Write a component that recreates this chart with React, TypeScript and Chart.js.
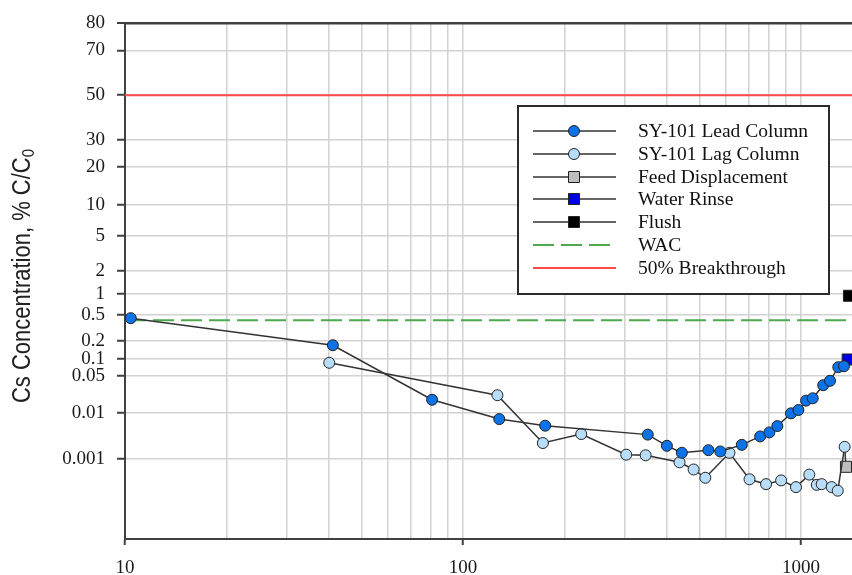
import { useEffect, useRef } from 'react';
import { Chart, Scale, registerables } from 'chart.js';

// ---------------- data ----------------
// Bed volumes processed (x) and Cs concentration in % C/C0 (y)
const leadBV = [10.4, 41.2, 81, 128, 175, 352, 401, 444, 532, 577, 668, 757, 806, 851, 934, 982, 1035, 1083, 1163, 1218, 1289, 1340];
const leadConc = [0.45, 0.17, 0.018, 0.0074, 0.0054, 0.0035, 0.002, 0.0014, 0.0016, 0.0015, 0.0021, 0.0032, 0.0039, 0.0053, 0.0097, 0.0113, 0.0173, 0.0192, 0.034, 0.041, 0.072, 0.075];

const lagBV = [40.2, 126.4, 172.3, 223.7, 304, 347, 437, 481, 521, 614, 704, 788, 873, 966, 1058, 1113, 1151, 1232, 1284, 1346];
const lagConc = [0.086, 0.022, 0.0023, 0.0036, 0.00127, 0.00123, 0.00085, 0.00058, 0.00037, 0.0014, 0.00034, 0.00026, 0.00032, 0.00022, 0.00044, 0.00025, 0.00026, 0.00022, 0.00018, 0.0019];

const feedBV = [1346, 1358];
const feedConc = [0.0019, 0.00067];

const rinseBV = [1374];
const rinseConc = [0.098];

const flushBV = [1386];
const flushConc = [0.94];

const wacLevel = 0.42;
const breakthroughLevel = 50;

const xMin = 10;
const xMax = 1415;
const yMin = 0.00001;
const yMax = 80;

const yTickValues = [0.001, 0.01, 0.05, 0.1, 0.2, 0.5, 1, 2, 5, 10, 20, 30, 50, 70, 80];
const xGridValues = [10, 20, 30, 40, 50, 60, 70, 80, 90, 100, 200, 300, 400, 500, 600, 700, 800, 900, 1000];
const xLabelValues = [10, 100, 1000];

const yTitle = 'Cs Concentration, % C/C';
const yTitleSub = '0';

// ---------------- probability (probit) scale ----------------
function probit(p: number): number {
  const a = [-3.969683028665376e1, 2.209460984245205e2, -2.759285104469687e2, 1.38357751867269e2, -3.066479806614716e1, 2.506628277459239];
  const b = [-5.447609879822406e1, 1.615858368580409e2, -1.556989798598866e2, 6.680131188771972e1, -1.328068155288572e1];
  const c = [-7.784894002430293e-3, -3.223964580411365e-1, -2.400758277161838, -2.549732539343734, 4.374664141464968, 2.938163982698783];
  const d = [7.784695709041462e-3, 3.224671290700398e-1, 2.445134137142996, 3.754408661907416];
  const pl = 0.02425;
  if (p < pl) {
    const q = Math.sqrt(-2 * Math.log(p));
    return (((((c[0] * q + c[1]) * q + c[2]) * q + c[3]) * q + c[4]) * q + c[5]) / ((((d[0] * q + d[1]) * q + d[2]) * q + d[3]) * q + 1);
  }
  if (p <= 1 - pl) {
    const q = p - 0.5;
    const r = q * q;
    return ((((((a[0] * r + a[1]) * r + a[2]) * r + a[3]) * r + a[4]) * r + a[5]) * q) / (((((b[0] * r + b[1]) * r + b[2]) * r + b[3]) * r + b[4]) * r + 1);
  }
  const q = Math.sqrt(-2 * Math.log(1 - p));
  return -(((((c[0] * q + c[1]) * q + c[2]) * q + c[3]) * q + c[4]) * q + c[5]) / ((((d[0] * q + d[1]) * q + d[2]) * q + d[3]) * q + 1);
}

function normCdf(z: number): number {
  const x = Math.abs(z) / Math.SQRT2;
  const t = 1 / (1 + 0.3275911 * x);
  const y = 1 - ((((1.061405429 * t - 1.453152027) * t + 1.421413741) * t - 0.284496736) * t + 0.254829592) * t * Math.exp(-x * x);
  return z >= 0 ? 0.5 * (1 + y) : 0.5 * (1 - y);
}

class ProbitScale extends Scale {
  static id = 'probit';
  static defaults = {};
  zMin = 0;
  zMax = 1;

  determineDataLimits() {
    const opts: any = this.options;
    this.min = opts.min;
    this.max = opts.max;
  }

  buildTicks() {
    const opts: any = this.options;
    return (opts.tickValues || []).map((v: number) => ({ value: v }));
  }

  configure() {
    super.configure();
    this.zMin = probit(this.min / 100);
    this.zMax = probit(this.max / 100);
  }

  getLabelForValue(value: number) {
    return String(value);
  }

  getPixelForValue(value: number) {
    const z = probit(value / 100);
    return this.getPixelForDecimal((z - this.zMin) / (this.zMax - this.zMin));
  }

  getValueForPixel(pixel: number) {
    const dec = this.getDecimalForPixel(pixel);
    return normCdf(this.zMin + dec * (this.zMax - this.zMin)) * 100;
  }
}

Chart.register(...registerables, ProbitScale as any);

// ---------------- overlay: top frame, axis title, legend ----------------
const overlayPlugin = {
  id: 'overlay',
  afterDraw(chart: any) {
    const { ctx, chartArea } = chart;
    ctx.save();

    // top frame line
    ctx.strokeStyle = '#404040';
    ctx.lineWidth = 2;
    ctx.beginPath();
    ctx.moveTo(chartArea.left - 1, chartArea.top);
    ctx.lineTo(chartArea.right, chartArea.top);
    ctx.stroke();

    // y-axis title with subscript
    const mainFont = '22px "Liberation Sans", Arial, sans-serif';
    const subFont = '15px "Liberation Sans", Arial, sans-serif';
    ctx.font = mainFont;
    const wMain = ctx.measureText(yTitle).width;
    ctx.font = subFont;
    const wSub = ctx.measureText(yTitleSub).width;
    const total = wMain + wSub;
    ctx.translate(23, 276);
    ctx.rotate(-Math.PI / 2);
    ctx.scale(1, 1.15);
    ctx.fillStyle = '#222';
    ctx.textBaseline = 'middle';
    ctx.textAlign = 'left';
    ctx.font = mainFont;
    ctx.fillText(yTitle, -total / 2, 0);
    ctx.font = subFont;
    ctx.fillText(yTitleSub, -total / 2 + wMain, 5);
    ctx.setTransform(1, 0, 0, 1, 0, 0);

    // legend box
    const bx = 518, by = 106, bw = 311, bh = 188;
    ctx.fillStyle = '#ffffff';
    ctx.fillRect(bx, by, bw, bh);
    ctx.strokeStyle = '#2b2b2b';
    ctx.lineWidth = 2;
    ctx.strokeRect(bx, by, bw, bh);

    const lineX0 = 533, lineX1 = 616, markX = 574, textX = 638;
    ctx.font = '19.5px "Liberation Serif", "Times New Roman", serif';
    chart.data.datasets.forEach((ds: any, i: number) => {
      const y = Math.round(131 + i * 22.8);
      ctx.save();
      ctx.strokeStyle = ds.borderColor;
      ctx.lineWidth = ds.borderWidth;
      ctx.setLineDash(ds.borderDash || []);
      ctx.beginPath();
      ctx.moveTo(lineX0, y);
      ctx.lineTo(ds.borderDash ? 610 : lineX1, y);
      ctx.stroke();
      ctx.restore();
      if (ds.legendMarker) {
        ctx.fillStyle = ds.pointBackgroundColor;
        ctx.strokeStyle = ds.pointBorderColor;
        ctx.lineWidth = 1;
        ctx.beginPath();
        if (ds.pointStyle === 'rect') {
          ctx.rect(markX - 5.5, y - 5.5, 11, 11);
        } else {
          ctx.arc(markX, y, 5.5, 0, Math.PI * 2);
        }
        ctx.fill();
        ctx.stroke();
      }
      ctx.fillStyle = '#111';
      ctx.textBaseline = 'middle';
      ctx.textAlign = 'left';
      ctx.fillText(ds.label, textX, y + 1);
    });

    ctx.restore();
  },
};

function pts(xs: number[], ys: number[]) {
  return xs.map((x, i) => ({ x, y: ys[i] }));
}

const lineColor = '#333333';
const markerEdge = '#222222';

export default function App() {
  const ref = useRef<HTMLCanvasElement>(null);

  useEffect(() => {
    const chart = new Chart(ref.current as HTMLCanvasElement, {
      type: 'line',
      data: {
        datasets: [
          {
            label: 'SY-101 Lead Column',
            data: pts(leadBV, leadConc),
            borderColor: lineColor,
            borderWidth: 1.5,
            pointStyle: 'circle',
            pointRadius: 5.5,
            pointBackgroundColor: '#0b72e7',
            pointBorderColor: markerEdge,
            pointBorderWidth: 1,
            legendMarker: true,
          } as any,
          {
            label: 'SY-101 Lag Column',
            data: pts(lagBV, lagConc),
            borderColor: lineColor,
            borderWidth: 1.5,
            pointStyle: 'circle',
            pointRadius: 5.5,
            pointBackgroundColor: '#b7ddf8',
            pointBorderColor: markerEdge,
            pointBorderWidth: 1,
            legendMarker: true,
          } as any,
          {
            label: 'Feed Displacement',
            data: pts(feedBV, feedConc),
            borderColor: lineColor,
            borderWidth: 1.5,
            pointStyle: 'rect',
            pointRadius: [0, 7.8],
            pointBackgroundColor: '#bdbdbd',
            pointBorderColor: markerEdge,
            pointBorderWidth: 1,
            legendMarker: true,
          } as any,
          {
            label: 'Water Rinse',
            data: pts(rinseBV, rinseConc),
            borderColor: lineColor,
            borderWidth: 1.5,
            pointStyle: 'rect',
            pointRadius: 7.8,
            pointBackgroundColor: '#0000e6',
            pointBorderColor: markerEdge,
            pointBorderWidth: 1,
            legendMarker: true,
          } as any,
          {
            label: 'Flush',
            data: pts(flushBV, flushConc),
            borderColor: lineColor,
            borderWidth: 1.5,
            pointStyle: 'rect',
            pointRadius: 7.8,
            pointBackgroundColor: '#000000',
            pointBorderColor: markerEdge,
            pointBorderWidth: 1,
            legendMarker: true,
          } as any,
          {
            label: 'WAC',
            data: pts([xMin, xMax], [wacLevel, wacLevel]),
            borderColor: '#4ea84e',
            borderWidth: 2,
            borderDash: [21, 7],
            pointRadius: 0,
            legendMarker: false,
          } as any,
          {
            label: '50% Breakthrough',
            data: pts([xMin, xMax], [breakthroughLevel, breakthroughLevel]),
            borderColor: '#ff4a4a',
            borderWidth: 2,
            pointRadius: 0,
            legendMarker: false,
          } as any,
        ],
      },
      options: {
        animation: false,
        responsive: false,
        devicePixelRatio: 1,
        layout: { autoPadding: false, padding: { top: 23, right: 0, bottom: 0, left: 0 } },
        plugins: {
          legend: { display: false },
          tooltip: { enabled: false },
        },
        scales: {
          x: {
            type: 'logarithmic',
            min: xMin,
            max: xMax,
            afterBuildTicks: (scale: any) => {
              scale.ticks = xGridValues.map((v) => ({ value: v }));
            },
            afterFit: (scale: any) => {
              scale.height = 36;
              scale.paddingLeft = 0;
              scale.paddingRight = 0;
            },
            border: { color: '#404040', width: 2 },
            grid: {
              color: '#d2d2d2',
              lineWidth: 1.5,
              tickLength: 6,
              tickWidth: 2,
              tickColor: (ctx: any) =>
                ctx.tick && xLabelValues.includes(ctx.tick.value) ? '#404040' : 'rgba(0,0,0,0)',
            },
            ticks: {
              autoSkip: false,
              maxRotation: 0,
              padding: 12,
              color: '#1a1a1a',
              font: { family: '"Liberation Serif", "Times New Roman", serif', size: 19 },
              callback: (value: any) => (xLabelValues.includes(Number(value)) ? String(value) : ''),
            },
          },
          y: {
            type: 'probit' as any,
            min: yMin,
            max: yMax,
            tickValues: yTickValues,
            afterFit: (scale: any) => {
              scale.width = 125;
            },
            border: { color: '#404040', width: 2 },
            grid: {
              color: (ctx: any) => (ctx.tick && ctx.tick.value === yMax ? '#404040' : '#d2d2d2'),
              lineWidth: (ctx: any) => (ctx.tick && ctx.tick.value === yMax ? 2 : 1.5),
              tickLength: 8,
              tickWidth: 2,
              tickColor: '#404040',
            },
            ticks: {
              padding: 12,
              color: '#1a1a1a',
              font: { family: '"Liberation Serif", "Times New Roman", serif', size: 19 },
              callback: (value: any) => String(value),
            },
          } as any,
        },
      },
      plugins: [overlayPlugin],
    });
    return () => chart.destroy();
  }, []);

  return (
    <div style={{ position: 'fixed', left: 0, top: 0, width: 852, height: 575, overflow: 'hidden', background: '#fff' }}>
      <canvas ref={ref} width={852} height={575} style={{ display: 'block', width: 852, height: 575 }} />
    </div>
  );
}
